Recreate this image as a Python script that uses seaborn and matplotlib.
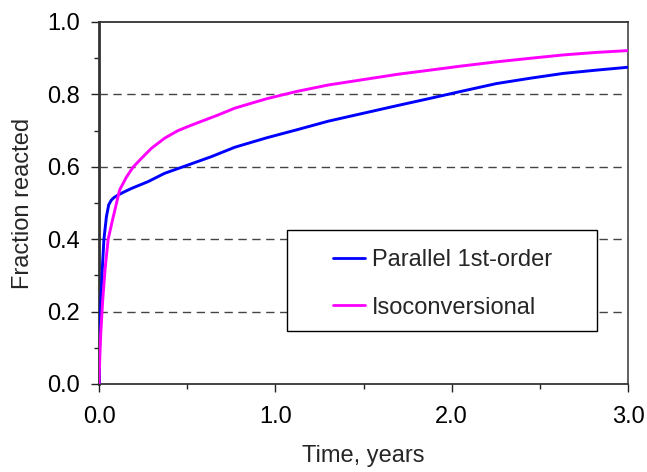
import matplotlib
matplotlib.use("Agg")
import matplotlib.pyplot as plt
from matplotlib.patches import Rectangle
from matplotlib.ticker import MultipleLocator, FormatStrFormatter
import pandas as pd
import seaborn as sns

# ---- data ----
parallel_t = [0, 0.005, 0.011, 0.02, 0.028, 0.042, 0.055, 0.07, 0.085, 0.108,
              0.14, 0.183, 0.278, 0.372, 0.505, 0.637, 0.77, 0.95, 1.12, 1.3,
              1.5, 1.7, 1.877, 2.05, 2.255, 2.45, 2.633, 2.82, 3.0]
parallel_y = [0, 0.15, 0.23, 0.33, 0.40, 0.462, 0.495, 0.508, 0.515, 0.522,
              0.530, 0.540, 0.559, 0.582, 0.605, 0.628, 0.654, 0.680, 0.702, 0.726,
              0.748, 0.770, 0.789, 0.808, 0.830, 0.845, 0.858, 0.867, 0.875]
iso_t = [0, 0.005, 0.01, 0.021, 0.035, 0.052, 0.079, 0.117, 0.155, 0.193,
         0.24, 0.297, 0.372, 0.448, 0.524, 0.599, 0.675, 0.77, 0.95, 1.12,
         1.3, 1.5, 1.7, 1.877, 2.05, 2.255, 2.45, 2.633, 2.82, 3.0]
iso_y = [0, 0.08, 0.14, 0.232, 0.32, 0.40, 0.458, 0.536, 0.571, 0.599,
         0.623, 0.651, 0.679, 0.700, 0.715, 0.729, 0.743, 0.762, 0.788, 0.808,
         0.826, 0.841, 0.856, 0.867, 0.878, 0.890, 0.900, 0.909, 0.916, 0.921]
series_names = ["Parallel 1st-order", "Isoconversional"]
series_colors = ["#0000FF", "#FF00FF"]
x_label = "Time, years"
y_label = "Fraction reacted"

df = pd.concat([
    pd.DataFrame({"t": parallel_t, "y": parallel_y, "series": series_names[0]}),
    pd.DataFrame({"t": iso_t, "y": iso_y, "series": series_names[1]}),
], ignore_index=True)

sns.set_style("white")
plt.rcParams["font.family"] = ["Liberation Sans", "DejaVu Sans"]

FS = 17

fig = plt.figure(figsize=(6.47, 4.72), dpi=100)
ax = fig.add_axes([99 / 647, 1 - 384 / 472, 529 / 647, 362 / 472])

sns.lineplot(data=df, x="t", y="y", hue="series", hue_order=series_names,
             palette=series_colors, estimator=None, sort=False, linewidth=2.1,
             ax=ax, zorder=3)

ax.set_xlim(0, 3)
ax.set_ylim(0, 1)
ax.xaxis.set_major_locator(MultipleLocator(1.0))
ax.xaxis.set_minor_locator(MultipleLocator(0.5))
ax.yaxis.set_major_locator(MultipleLocator(0.2))
ax.yaxis.set_minor_locator(MultipleLocator(0.1))
ax.xaxis.set_major_formatter(FormatStrFormatter("%.1f"))
ax.yaxis.set_major_formatter(FormatStrFormatter("%.1f"))

ax.tick_params(axis="both", which="major", direction="out", length=6, width=1.0,
               color="#222222", labelsize=FS, labelcolor="black")
ax.tick_params(axis="both", which="minor", direction="out", length=3.5, width=1.0,
               color="#222222")
ax.tick_params(axis="y", which="major", pad=8)
ax.tick_params(axis="x", which="major", pad=10)
ax.tick_params(axis="both", which="both", bottom=True, left=True)

for y in [0.2, 0.4, 0.6, 0.8]:
    ax.axhline(y, color="#444444", linewidth=1.0, linestyle=(0, (6, 4)), zorder=1)

for side in ["left", "bottom", "top", "right"]:
    ax.spines[side].set_visible(True)
    ax.spines[side].set_color("#333333")
    ax.spines[side].set_linewidth(1.3)
ax.spines["left"].set_linewidth(2.0)
ax.spines["right"].set_color("#555555")

ax.set_xlabel(x_label, fontsize=FS, labelpad=12)
ax.set_ylabel(y_label, fontsize=FS, labelpad=9)

# legend box
box = Rectangle(((287 - 99) / 529, (384 - 331) / 362), (597 - 287) / 529,
                (331 - 230) / 362, transform=ax.transAxes, facecolor="white",
                edgecolor="black", linewidth=1.0, zorder=4)
ax.add_patch(box)
leg = ax.legend(loc="center left", bbox_to_anchor=((333 - 99) / 529, (384 - 284) / 362),
                frameon=False, fontsize=FS, handlelength=1.36, handletextpad=0.3,
                labelspacing=1.08, borderpad=0, borderaxespad=0)
leg.set_zorder(5)
for h in leg.get_lines():
    h.set_linewidth(2.0)

fig.savefig("out.png", dpi=100)
